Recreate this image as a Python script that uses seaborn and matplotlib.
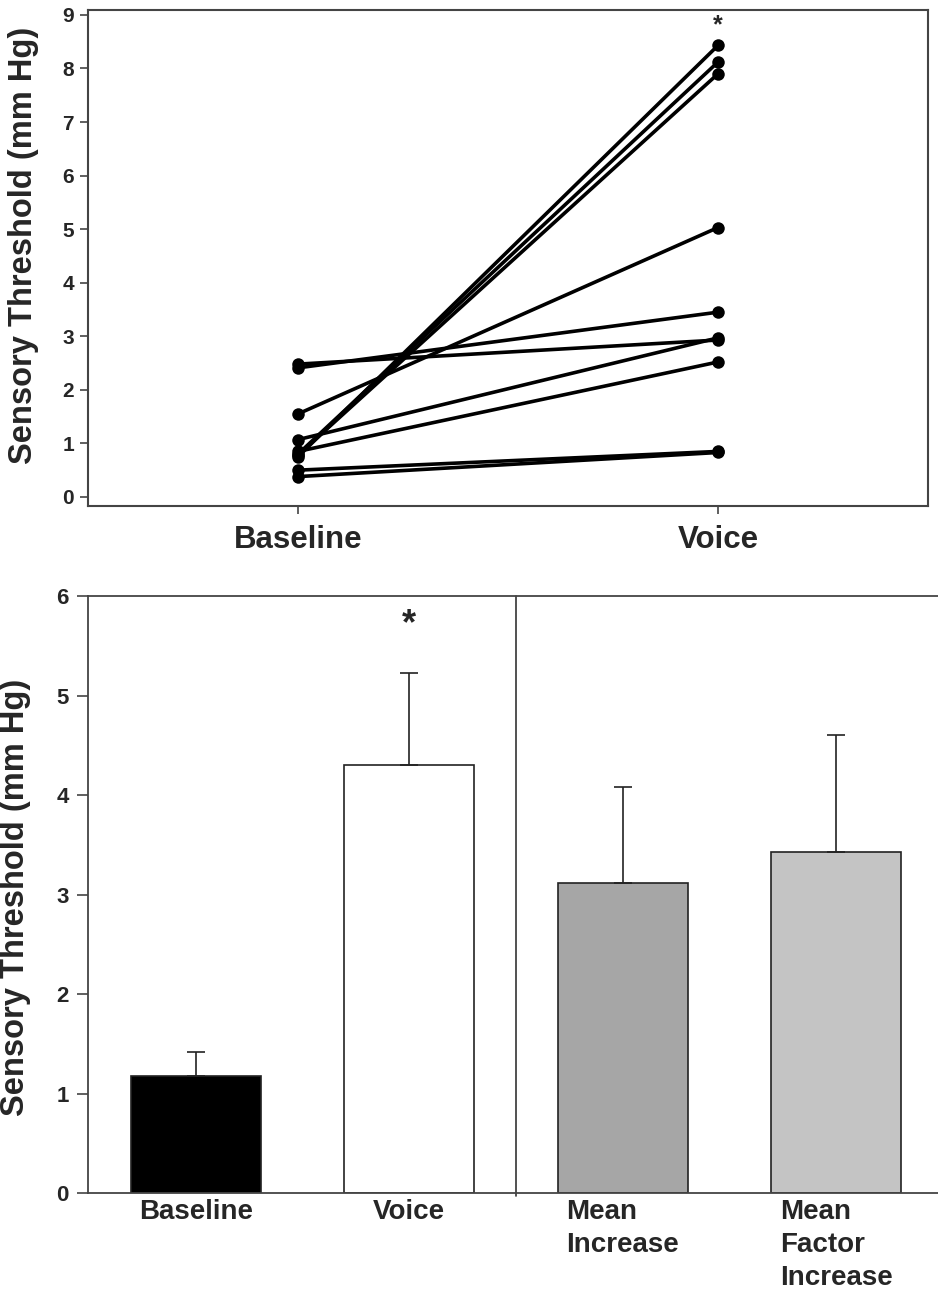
import matplotlib
matplotlib.use("Agg")
import matplotlib.pyplot as plt
import seaborn as sns
import pandas as pd

# ---- data ----
conditions = ["Baseline", "Voice"]
subjects = list(range(1, 11))
baseline_vals = [2.48, 2.41, 1.55, 1.07, 0.85, 0.80, 0.78, 0.75, 0.50, 0.38]
voice_vals = [2.93, 3.45, 5.03, 2.97, 2.52, 8.12, 7.90, 8.43, 0.85, 0.83]

bar_labels = ["Baseline", "Voice", "Mean\nIncrease", "Mean\nFactor\nIncrease"]
bar_means = [1.18, 4.30, 3.12, 3.43]
bar_upper = [1.42, 5.23, 4.08, 4.60]
bar_colors = ["#000000", "#ffffff", "#a6a6a6", "#c4c4c4"]

sns.set_style("ticks")
plt.rcParams["font.family"] = ["Liberation Sans", "DejaVu Sans"]
plt.rcParams["font.weight"] = "bold"

fig = plt.figure(figsize=(9.38, 12.92), dpi=100)

# ---- top: paired lines ----
ax1 = fig.add_axes([0.0938, 0.6084, 0.9893 - 0.0938, 0.9926 - 0.6084])
df = pd.DataFrame({
    "subject": subjects * 2,
    "condition": [conditions[0]] * len(subjects) + [conditions[1]] * len(subjects),
    "value": baseline_vals + voice_vals,
})
sns.lineplot(data=df, x="condition", y="value", units="subject", estimator=None,
             color="black", lw=2.6, marker="o", markersize=9, markeredgewidth=0,
             ax=ax1, legend=False)
ax1.set_xlim(-0.5, 1.5)
ax1.set_ylim(-0.168, 9.10)
ax1.set_yticks(range(0, 10))
ax1.set_xlabel("")
ax1.set_ylabel("Sensory Threshold (mm Hg)", fontsize=23.5, fontweight="bold")
ax1.yaxis.set_label_coords(-0.058, 0.524)
ax1.tick_params(axis="y", labelsize=15, length=6, width=1.2, color="#444444", pad=4)
ax1.tick_params(axis="x", labelsize=22.5, length=6, width=1.2, color="#444444", pad=8)
for lab in ax1.get_xticklabels() + ax1.get_yticklabels():
    lab.set_fontweight("bold")
for s in ax1.spines.values():
    s.set_visible(True)
    s.set_color("#444444")
    s.set_linewidth(1.5)
ax1.text(1, 8.81, "*", ha="center", va="center", fontsize=18, fontweight="bold")

# ---- bottom: bar chart ----
ax2 = fig.add_axes([0.0938, 0.0766, 1.0 - 0.0938, 0.5387 - 0.0766])
bdf = pd.DataFrame({"label": bar_labels, "mean": bar_means})
sns.barplot(data=bdf, x="label", y="mean", hue="label", palette=bar_colors,
            width=0.61, edgecolor="#222222", linewidth=1.2, legend=False, ax=ax2)
xs = list(range(len(bar_labels)))
errs = [u - m for u, m in zip(bar_upper, bar_means)]
ax2.errorbar(xs, bar_means, yerr=[[0] * len(errs), errs], fmt="none",
             ecolor="#222222", elinewidth=1.2, capsize=6.5, capthick=1.2)
ax2.set_xlim(-0.506, 3.478)
ax2.set_ylim(0, 6)
ax2.set_yticks(range(0, 7))
ax2.axvline(1.5, ymin=-0.005, color="#333333", lw=1.2, clip_on=False)
ax2.set_xlabel("")
ax2.set_ylabel("Sensory Threshold (mm Hg)", fontsize=23.5, fontweight="bold")
ax2.yaxis.set_label_coords(-0.067, 0.496)
ax2.tick_params(axis="y", labelsize=16, length=8, width=1.2, color="#444444", pad=6)
ax2.tick_params(axis="x", length=0, labelsize=20, pad=4)
for lab in ax2.get_yticklabels():
    lab.set_fontweight("bold")
for lab in ax2.get_xticklabels():
    lab.set_fontweight("bold")
    lab.set_multialignment("left")
    lab.set_verticalalignment("top")
    lab.set_linespacing(1.35)
for side in ["left", "bottom", "top"]:
    ax2.spines[side].set_visible(True)
    ax2.spines[side].set_color("#444444")
    ax2.spines[side].set_linewidth(1.3)
ax2.spines["right"].set_visible(False)
ax2.text(1, 5.71, "*", ha="center", va="center", fontsize=26, fontweight="bold")

fig.savefig("out.png", dpi=100)
